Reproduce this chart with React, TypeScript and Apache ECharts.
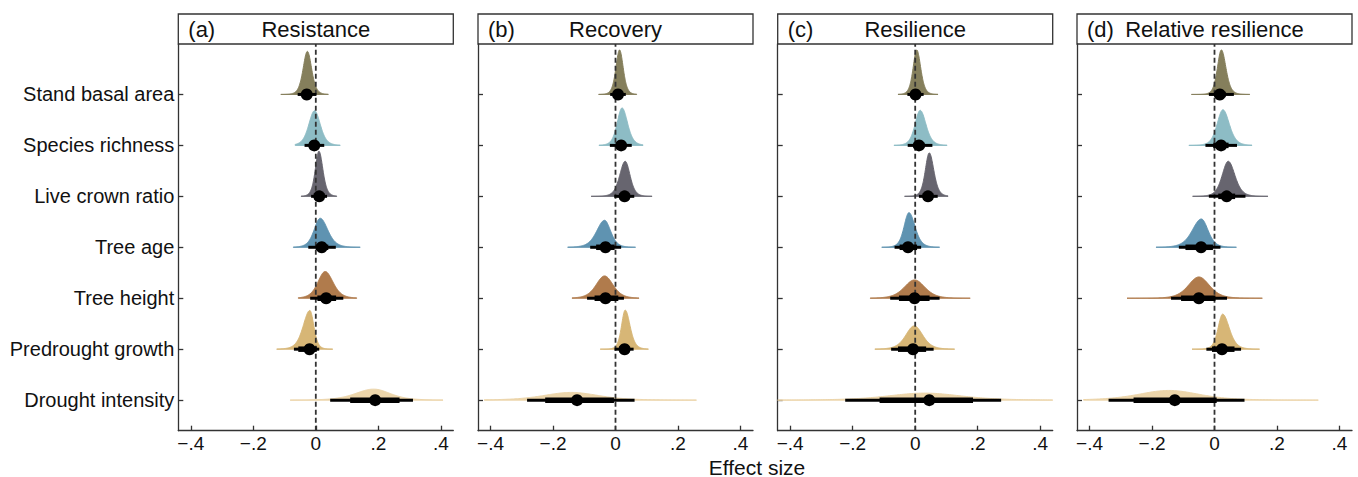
import React, { useEffect, useRef } from "react";
import * as echarts from "echarts";

// ---------- data ----------
const categories = [
  "Stand basal area",
  "Species richness",
  "Live crown ratio",
  "Tree age",
  "Tree height",
  "Predrought growth",
  "Drought intensity",
];
const categoryColors = ["#857f5c", "#8dbcc5", "#67656f", "#5f93b1", "#b07b4c", "#d7b676", "#ecd5aa"];
const panelLetters = ["(a)", "(b)", "(c)", "(d)"];
const panelTitles = ["Resistance", "Recovery", "Resilience", "Relative resilience"];
const xTickValues = [-0.4, -0.2, 0, 0.2, 0.4];
const xTickLabels = ["\u2212.4", "\u2212.2", "0", ".2", ".4"];
const axisTitle = "Effect size";

// (a) Resistance  (rows top -> bottom)
const resistancePoint = [-0.029, -0.005, 0.011, 0.019, 0.033, -0.020, 0.190];
const resistanceLo95 = [-0.058, -0.036, -0.015, -0.024, -0.018, -0.070, 0.046];
const resistanceHi95 = [0.002, 0.027, 0.036, 0.064, 0.088, 0.011, 0.311];
const resistanceLo66 = [-0.042, -0.020, -0.003, 0.000, 0.005, -0.056, 0.110];
const resistanceHi66 = [-0.016, 0.011, 0.024, 0.040, 0.065, 0.003, 0.268];
const resistanceMode = [-0.027, -0.004, 0.010, 0.014, 0.030, -0.019, 0.185];
const resistanceSdL = [0.014, 0.019, 0.012, 0.020, 0.024, 0.022, 0.060];
const resistanceSdR = [0.014, 0.019, 0.013, 0.025, 0.026, 0.013, 0.055];
const resistanceHeight = [0.845, 0.68, 0.885, 0.57, 0.525, 0.76, 0.216];
const resistanceTailMin = [-0.112, -0.066, -0.047, -0.072, -0.056, -0.125, -0.082];
const resistanceTailMax = [0.040, 0.078, 0.067, 0.142, 0.131, 0.054, 0.407];

// (b) Recovery
const recoveryPoint = [0.008, 0.018, 0.029, -0.032, -0.032, 0.029, -0.123];
const recoveryLo95 = [-0.017, -0.018, -0.004, -0.081, -0.091, -0.003, -0.283];
const recoveryHi95 = [0.033, 0.052, 0.060, 0.018, 0.027, 0.058, 0.061];
const recoveryLo66 = [-0.004, 0.002, 0.014, -0.062, -0.067, 0.012, -0.225];
const recoveryHi66 = [0.020, 0.034, 0.043, -0.003, 0.009, 0.044, -0.005];
const recoveryMode = [0.013, 0.021, 0.031, -0.035, -0.035, 0.031, -0.142];
const recoverySdL = [0.012, 0.016, 0.018, 0.026, 0.028, 0.012, 0.090];
const recoverySdR = [0.012, 0.018, 0.016, 0.020, 0.028, 0.016, 0.090];
const recoveryHeight = [0.874, 0.735, 0.688, 0.53, 0.438, 0.766, 0.151];
const recoveryTailMin = [-0.054, -0.053, -0.078, -0.153, -0.139, -0.049, -0.420];
const recoveryTailMax = [0.068, 0.088, 0.117, 0.064, 0.075, 0.105, 0.259];

// (c) Resilience
const resiliencePoint = [0.001, 0.012, 0.041, -0.023, -0.002, -0.007, 0.045];
const resilienceLo95 = [-0.025, -0.024, 0.012, -0.066, -0.080, -0.077, -0.224];
const resilienceHi95 = [0.027, 0.055, 0.072, 0.019, 0.078, 0.059, 0.275];
const resilienceLo66 = [-0.011, -0.006, 0.027, -0.050, -0.052, -0.055, -0.114];
const resilienceHi66 = [0.013, 0.030, 0.056, 0.006, 0.046, 0.035, 0.185];
const resilienceMode = [0.005, 0.016, 0.045, -0.020, -0.002, -0.003, 0.030];
const resilienceSdL = [0.012, 0.017, 0.013, 0.016, 0.034, 0.028, 0.120];
const resilienceSdR = [0.013, 0.019, 0.015, 0.020, 0.034, 0.028, 0.120];
const resilienceHeight = [0.874, 0.688, 0.853, 0.68, 0.36, 0.458, 0.138];
const resilienceTailMin = [-0.055, -0.068, -0.034, -0.107, -0.144, -0.129, -0.440];
const resilienceTailMax = [0.073, 0.102, 0.105, 0.078, 0.176, 0.126, 0.440];

// (d) Relative resilience
const relativePoint = [0.017, 0.021, 0.039, -0.043, -0.050, 0.024, -0.127];
const relativeLo95 = [-0.018, -0.029, -0.018, -0.114, -0.139, -0.026, -0.339];
const relativeHi95 = [0.062, 0.072, 0.099, 0.019, 0.040, 0.085, 0.096];
const relativeLo66 = [0.000, -0.004, 0.012, -0.093, -0.107, -0.008, -0.259];
const relativeHi66 = [0.036, 0.045, 0.066, -0.005, 0.003, 0.064, 0.007];
const relativeMode = [0.022, 0.027, 0.044, -0.042, -0.050, 0.026, -0.146];
const relativeSdL = [0.013, 0.019, 0.020, 0.030, 0.035, 0.015, 0.100];
const relativeSdR = [0.015, 0.021, 0.022, 0.022, 0.035, 0.022, 0.100];
const relativeHeight = [0.874, 0.70, 0.688, 0.556, 0.418, 0.688, 0.19];
const relativeTailMin = [-0.074, -0.082, -0.070, -0.187, -0.280, -0.072, -0.419];
const relativeTailMax = [0.113, 0.120, 0.171, 0.070, 0.153, 0.144, 0.332];

type Panel = {
  point: number[]; lo95: number[]; hi95: number[]; lo66: number[]; hi66: number[];
  mode: number[]; sdL: number[]; sdR: number[]; height: number[]; tailMin: number[]; tailMax: number[];
};

const panels: Panel[] = [
  { point: resistancePoint, lo95: resistanceLo95, hi95: resistanceHi95, lo66: resistanceLo66, hi66: resistanceHi66, mode: resistanceMode, sdL: resistanceSdL, sdR: resistanceSdR, height: resistanceHeight, tailMin: resistanceTailMin, tailMax: resistanceTailMax },
  { point: recoveryPoint, lo95: recoveryLo95, hi95: recoveryHi95, lo66: recoveryLo66, hi66: recoveryHi66, mode: recoveryMode, sdL: recoverySdL, sdR: recoverySdR, height: recoveryHeight, tailMin: recoveryTailMin, tailMax: recoveryTailMax },
  { point: resiliencePoint, lo95: resilienceLo95, hi95: resilienceHi95, lo66: resilienceLo66, hi66: resilienceHi66, mode: resilienceMode, sdL: resilienceSdL, sdR: resilienceSdR, height: resilienceHeight, tailMin: resilienceTailMin, tailMax: resilienceTailMax },
  { point: relativePoint, lo95: relativeLo95, hi95: relativeHi95, lo66: relativeLo66, hi66: relativeHi66, mode: relativeMode, sdL: relativeSdL, sdR: relativeSdR, height: relativeHeight, tailMin: relativeTailMin, tailMax: relativeTailMax },
];

// ---------- layout ----------
const FONT = "Liberation Sans, Arial, sans-serif";
const X_MIN = -0.44;
const X_MAX = 0.44;
const Y_MIN = -0.6;
const Y_MAX = 6.99;
const panelLefts = [178.3, 478.0, 777.7, 1077.0];
const panelWidth = 275;
const plotTop = 44;
const plotHeight = 386.7;
const headerTop = 14;
const headerHeight = 30;
const AXIS_COLOR = "#333333";
const TEXT_COLOR = "#111111";

const densityShape = (z: number) => Math.pow(1 + (z * z) / 6, -3.5);

function buildOption() {
  const nRows = categories.length;
  const rowValue = (i: number) => nRows - 1 - i;
  const grid: any[] = [];
  const xAxis: any[] = [];
  const yAxis: any[] = [];
  const series: any[] = [];
  const graphic: any[] = [];
  const yTickValues = categories.map((_, i) => i);

  panels.forEach((p, k) => {
    const left = panelLefts[k];
    grid.push({ left, top: plotTop, width: panelWidth, height: plotHeight, containLabel: false });
    xAxis.push({
      gridIndex: k,
      type: "value",
      min: X_MIN,
      max: X_MAX,
      axisLine: { show: true, onZero: false, lineStyle: { color: AXIS_COLOR, width: 1.3 } },
      axisTick: { show: true, inside: true, length: 5, customValues: xTickValues, lineStyle: { color: AXIS_COLOR, width: 1.3 } },
      axisLabel: {
        show: true,
        customValues: xTickValues,
        formatter: (v: number) => {
          const idx = xTickValues.findIndex((t) => Math.abs(t - v) < 1e-9);
          return idx >= 0 ? xTickLabels[idx] : "";
        },
        fontSize: 19,
        fontFamily: FONT,
        color: TEXT_COLOR,
        margin: 3,
      },
      splitLine: { show: false },
    });
    yAxis.push({
      gridIndex: k,
      type: "value",
      min: Y_MIN,
      max: Y_MAX,
      axisLine: { show: true, onZero: false, lineStyle: { color: AXIS_COLOR, width: 1.3 } },
      axisTick: { show: true, inside: true, length: 5, customValues: yTickValues, lineStyle: { color: AXIS_COLOR, width: 1.3 } },
      axisLabel: {
        show: k === 0,
        customValues: yTickValues,
        formatter: (v: number) => categories[nRows - 1 - Math.round(v)] ?? "",
        fontSize: 20,
        fontFamily: FONT,
        color: TEXT_COLOR,
        margin: 4,
      },
      splitLine: { show: false },
    });

    // densities
    series.push({
      type: "custom",
      xAxisIndex: k,
      yAxisIndex: k,
      z: 2,
      silent: true,
      data: categories.map((_, i) => [p.mode[i], rowValue(i), i]),
      renderItem: (_params: any, api: any) => {
        const i = api.value(2) as number;
        const base = rowValue(i);
        const lo = Math.max(p.tailMin[i], X_MIN);
        const hi = Math.min(p.tailMax[i], X_MAX);
        const pts: number[][] = [];
        pts.push(api.coord([lo, base]));
        const N = 160;
        for (let n = 0; n <= N; n++) {
          const x = lo + ((hi - lo) * n) / N;
          const sd = x < p.mode[i] ? p.sdL[i] : p.sdR[i];
          const z = (x - p.mode[i]) / sd;
          pts.push(api.coord([x, base + p.height[i] * densityShape(z)]));
        }
        pts.push(api.coord([hi, base]));
        const color = categoryColors[i];
        return {
          type: "polygon",
          shape: { points: pts },
          style: { fill: color, stroke: color, lineWidth: 1 },
        };
      },
    });

    // zero reference line
    series.push({
      type: "line",
      xAxisIndex: k,
      yAxisIndex: k,
      z: 3,
      silent: true,
      symbol: "none",
      data: [[0, Y_MIN], [0, Y_MAX]],
      lineStyle: { color: "#333333", width: 1.8, type: [5, 3] },
    });

    // intervals + points
    series.push({
      type: "custom",
      xAxisIndex: k,
      yAxisIndex: k,
      z: 4,
      silent: true,
      data: categories.map((_, i) => [p.point[i], rowValue(i), i]),
      renderItem: (_params: any, api: any) => {
        const i = api.value(2) as number;
        const yv = rowValue(i);
        const a95 = api.coord([p.lo95[i], yv]);
        const b95 = api.coord([p.hi95[i], yv]);
        const a66 = api.coord([p.lo66[i], yv]);
        const b66 = api.coord([p.hi66[i], yv]);
        const c = api.coord([p.point[i], yv]);
        return {
          type: "group",
          children: [
            { type: "line", shape: { x1: a95[0], y1: a95[1], x2: b95[0], y2: b95[1] }, style: { stroke: "#000", lineWidth: 3 } },
            { type: "line", shape: { x1: a66[0], y1: a66[1], x2: b66[0], y2: b66[1] }, style: { stroke: "#000", lineWidth: 5.5 } },
            { type: "circle", shape: { cx: c[0], cy: c[1], r: 6 }, style: { fill: "#000" } },
          ],
        };
      },
    });

    // header strip
    graphic.push({
      type: "rect",
      shape: { x: left, y: headerTop, width: panelWidth, height: headerHeight },
      style: { fill: "#ffffff", stroke: AXIS_COLOR, lineWidth: 1.3 },
      silent: true,
    });
    graphic.push({
      type: "text",
      x: left + 10,
      y: headerTop + headerHeight / 2 + 0.5,
      style: { text: panelLetters[k], fontSize: 22, fontFamily: FONT, fill: TEXT_COLOR, align: "left", verticalAlign: "middle" },
      silent: true,
    });
    graphic.push({
      type: "text",
      x: left + panelWidth / 2,
      y: headerTop + headerHeight / 2 + 0.5,
      style: { text: panelTitles[k], fontSize: 22, fontFamily: FONT, fill: TEXT_COLOR, align: "center", verticalAlign: "middle" },
      silent: true,
    });
  });

  graphic.push({
    type: "text",
    x: 757,
    y: 467,
    style: { text: axisTitle, fontSize: 21, fontFamily: FONT, fill: TEXT_COLOR, align: "center", verticalAlign: "middle" },
    silent: true,
  });

  return {
    animation: false,
    backgroundColor: "#ffffff",
    grid,
    xAxis,
    yAxis,
    series,
    graphic,
  };
}

export default function App() {
  const ref = useRef<HTMLDivElement>(null);
  useEffect(() => {
    if (!ref.current) return;
    const chart = echarts.init(ref.current, undefined, { renderer: "svg" });
    chart.setOption(buildOption() as any);
    return () => chart.dispose();
  }, []);
  return (
    <div
      ref={ref}
      style={{ position: "absolute", left: 0, top: 0, width: 1358, height: 477, background: "#fff" }}
    />
  );
}
